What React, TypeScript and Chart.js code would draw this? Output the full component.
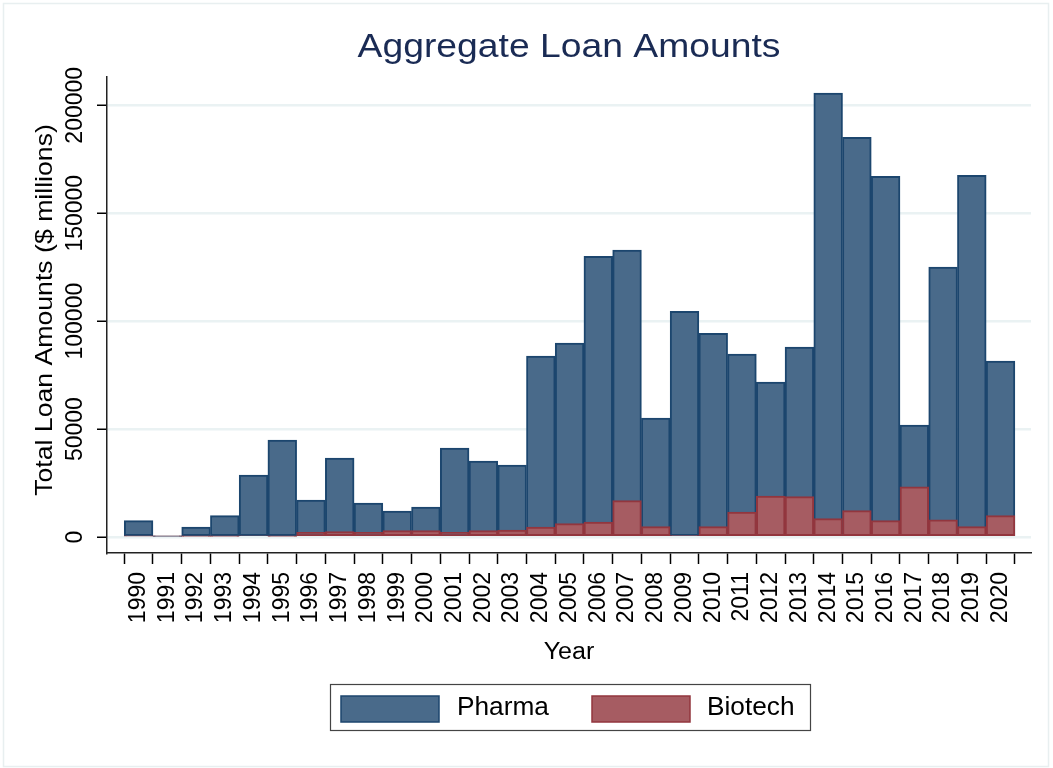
import React, { useEffect, useRef } from "react";
import { Chart, registerables } from "chart.js";

Chart.register(...registerables);

const years = [1990, 1991, 1992, 1993, 1994, 1995, 1996, 1997, 1998, 1999, 2000, 2001, 2002, 2003, 2004, 2005, 2006, 2007, 2008, 2009, 2010, 2011, 2012, 2013, 2014, 2015, 2016, 2017, 2018, 2019, 2020];
const pharma = [7600, 300, 4600, 9900, 28700, 44900, 17100, 36600, 15700, 12000, 13900, 41200, 35200, 33300, 83800, 89800, 130000, 132900, 55100, 104600, 94400, 84700, 71800, 88000, 205600, 185200, 167100, 51900, 125000, 167600, 81500];
const biotech = [400, 400, 300, 300, 600, 300, 2200, 2500, 2200, 2950, 2950, 2200, 2950, 3250, 4650, 6200, 6950, 16850, 4800, 630, 4800, 11600, 19000, 18700, 8500, 12200, 7600, 23300, 7900, 4800, 9900];
const yTicks = [0, 50000, 100000, 150000, 200000];
const yTickLabels = ["0", "50000", "100000", "150000", "200000"];
const titleText = "Aggregate Loan Amounts";
const xTitle = "Year";
const yTitle = "Total Loan Amounts ($ millions)";
const seriesNames = ["Pharma", "Biotech"];

const FONT = "'Liberation Sans', Arial, Helvetica, sans-serif";
const PH_FILL = "rgb(73,106,138)";
const PH_LINE = "rgb(28,70,110)";
const BT_FILL = "rgb(166,92,98)";
const BT_LINE = "rgb(146,54,62)";

function stretchText(ctx: any, text: string, x: number, y: number, rot: number, sx: number, align: string) {
  ctx.save();
  ctx.translate(x, y);
  if (rot) ctx.rotate(rot);
  ctx.scale(sx, 1);
  ctx.textAlign = align;
  ctx.textBaseline = "alphabetic";
  ctx.fillText(text, 0, 0);
  ctx.restore();
}

const overlay = {
  id: "stataOverlay",
  beforeDraw(chart: any) {
    const ctx = chart.ctx;
    ctx.save();
    ctx.fillStyle = "#fff";
    ctx.fillRect(0, 0, chart.width, chart.height);
    ctx.strokeStyle = "rgb(232,239,240)";
    ctx.lineWidth = 1.5;
    ctx.strokeRect(3.5, 3.5, 1045, 763);
    ctx.restore();
  },
  afterDraw(chart: any) {
    const ctx = chart.ctx;
    const area = chart.chartArea;
    const cx = (area.left + area.right) / 2;
    const yScale = chart.scales.y;
    ctx.save();
    // title
    ctx.fillStyle = "rgb(26,43,84)";
    ctx.font = `33px ${FONT}`;
    stretchText(ctx, titleText, cx, 57, 0, 1.13, "center");
    // y tick labels
    ctx.fillStyle = "#000";
    ctx.font = `23px ${FONT}`;
    yTicks.forEach((v, i) => {
      const y = yScale.getPixelForValue(v);
      stretchText(ctx, yTickLabels[i], 82, y, -Math.PI / 2, 1, "center");
    });
    // y title
    ctx.font = `24px ${FONT}`;
    stretchText(ctx, yTitle, 52, 310, -Math.PI / 2, 1.11, "center");
    // x title
    ctx.font = `23px ${FONT}`;
    stretchText(ctx, xTitle, cx, 659, 0, 1.09, "center");
    // legend
    ctx.strokeStyle = "#444";
    ctx.lineWidth = 1.2;
    ctx.strokeRect(330.5, 684.5, 480, 46);
    const items = [
      { x: 341, tx: 457, fill: PH_FILL, line: PH_LINE, label: seriesNames[0] },
      { x: 592, tx: 707, fill: BT_FILL, line: BT_LINE, label: seriesNames[1] },
    ];
    ctx.font = `25px ${FONT}`;
    items.forEach((it) => {
      ctx.fillStyle = it.fill;
      ctx.fillRect(it.x, 696, 98, 26);
      ctx.strokeStyle = it.line;
      ctx.lineWidth = 1.5;
      ctx.strokeRect(it.x, 696, 98, 26);
      ctx.fillStyle = "#000";
      stretchText(ctx, it.label, it.tx, 715, 0, 1.05, "left");
    });
    ctx.restore();
  },
};

export default function App() {
  const ref = useRef<HTMLCanvasElement>(null);
  useEffect(() => {
    if (!ref.current) return;
    const chart = new Chart(ref.current, {
      type: "bar",
      data: {
        datasets: [
          {
            label: seriesNames[0],
            data: years.map((y, i) => ({ x: y, y: pharma[i] })),
            backgroundColor: PH_FILL,
            borderColor: PH_LINE,
            borderWidth: 2,
            borderSkipped: false,
            barPercentage: 1,
            categoryPercentage: 1,
            order: 2,
          },
          {
            label: seriesNames[1],
            data: years.map((y, i) => ({ x: y, y: biotech[i] })),
            backgroundColor: BT_FILL,
            borderColor: BT_LINE,
            borderWidth: 2,
            borderSkipped: false,
            barPercentage: 1,
            categoryPercentage: 1,
            order: 1,
          },
        ],
      },
      options: {
        responsive: false,
        animation: false,
        devicePixelRatio: 1,
        layout: { padding: { top: 77, right: 22, left: 0, bottom: 0 } },
        plugins: {
          legend: { display: false },
          title: { display: false },
          tooltip: { enabled: false },
        },
        datasets: { bar: { grouped: false } } as any,
        scales: {
          x: {
            type: "linear",
            min: 1988.9,
            max: 2021.06,
            offset: false,
            afterBuildTicks: (s: any) => {
              s.ticks = years.map((v) => ({ value: v }));
            },
            afterFit: (s: any) => {
              s.height = 215;
            },
            ticks: {
              autoSkip: false,
              minRotation: 90,
              maxRotation: 90,
              padding: 8,
              color: "#000",
              font: { family: FONT, size: 23 },
              callback: (v: any) => String(v),
            },
            grid: {
              drawOnChartArea: false,
              drawTicks: true,
              tickLength: 11,
              tickColor: "#000",
              tickWidth: 1.5,
            },
            border: { display: true, color: "#222", width: 1.5 },
          },
          y: {
            type: "linear",
            min: -7410,
            max: 213100,
            afterBuildTicks: (s: any) => {
              s.ticks = yTicks.map((v) => ({ value: v }));
            },
            afterFit: (s: any) => {
              s.width = 107;
            },
            ticks: { display: false },
            grid: {
              color: "rgb(234,242,243)",
              lineWidth: 2.5,
              drawTicks: true,
              tickLength: 10,
              tickColor: "#000",
              tickWidth: 1.5,
            },
            border: { display: true, color: "#222", width: 1.5 },
          },
        },
      },
      plugins: [overlay],
    });
    return () => chart.destroy();
  }, []);
  return (
    <div style={{ position: "absolute", left: 0, top: 0, width: 1053, height: 768 }}>
      <canvas ref={ref} width={1053} height={768} style={{ display: "block" }} />
    </div>
  );
}
